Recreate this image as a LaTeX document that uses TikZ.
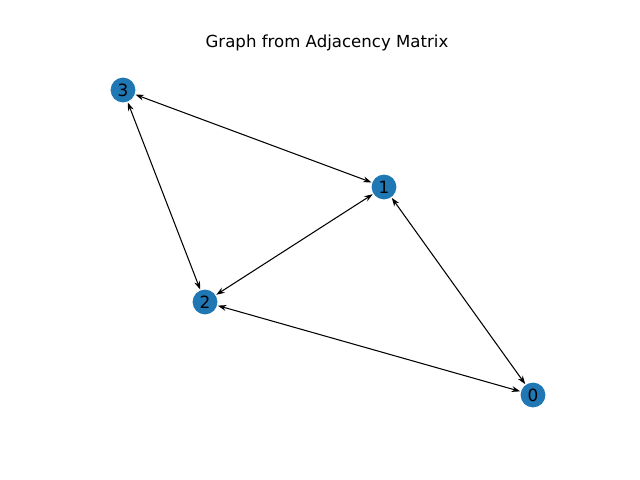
\documentclass[tikz,border=0pt]{standalone}
\usepackage{fontspec}
\setmainfont{DejaVu Sans}
\usepackage{xcolor}
\usetikzlibrary{arrows.meta}
\definecolor{nodeblue}{HTML}{1F77B4}

\begin{document}
\begin{tikzpicture}[x=0.025cm, y=-0.025cm,
    vertex/.style={circle, fill=nodeblue, minimum size=0.62cm, inner sep=0pt, font=\fontsize{12}{14}\selectfont},
    link/.style={{Stealth[length=6pt,width=4.2pt]}-{Stealth[length=6pt,width=4.2pt]}, line width=0.75pt, shorten <=0.5pt, shorten >=0.5pt}]
    \useasboundingbox (0,0) rectangle (640,480);
    \node[font=\fontsize{11.8}{14}\selectfont] (title) at (327,43) {Graph from Adjacency Matrix};
    \node[vertex] (n0) at (533,395) {0};
    \node[vertex] (n1) at (384,187) {1};
    \node[vertex] (n2) at (205,302) {2};
    \node[vertex] (n3) at (123,90) {3};
    \draw[link] (n3) -- (n1);
    \draw[link] (n3) -- (n2);
    \draw[link] (n1) -- (n2);
    \draw[link] (n1) -- (n0);
    \draw[link] (n2) -- (n0);
\end{tikzpicture}
\end{document}
